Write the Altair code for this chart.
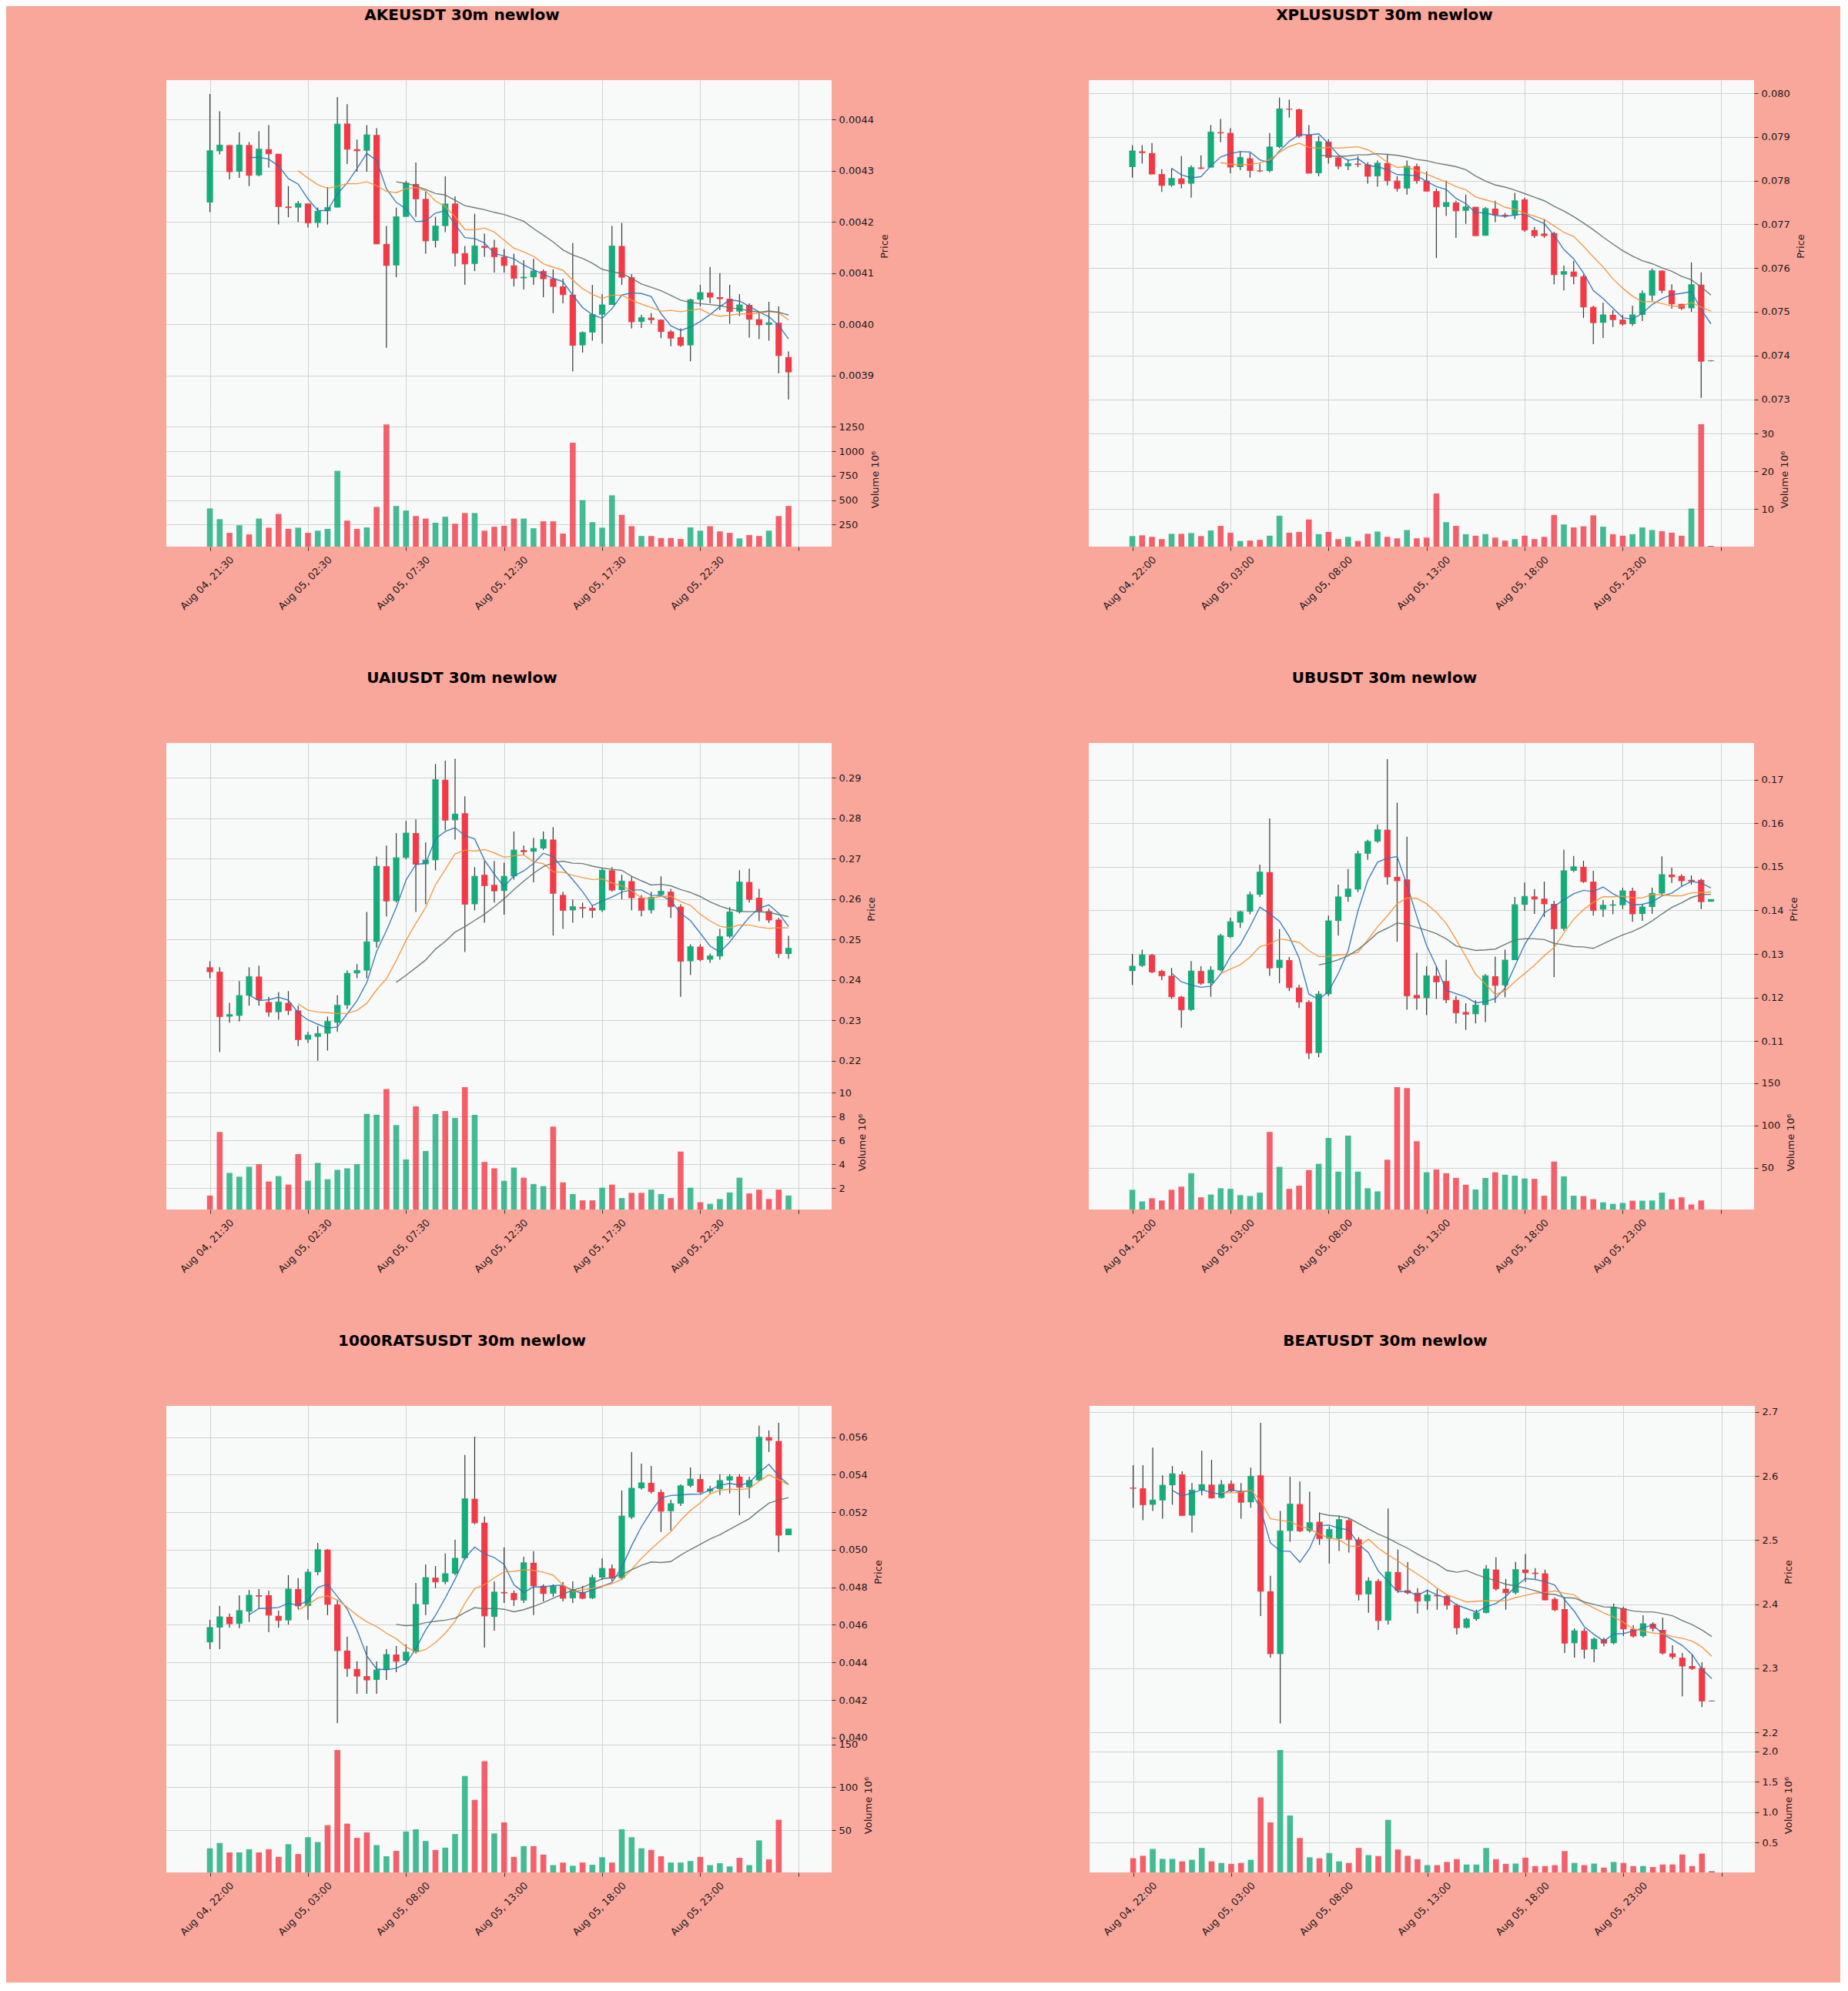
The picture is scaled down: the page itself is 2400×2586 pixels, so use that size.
import json
import altair as alt
import pandas as pd

N = 60
IDX = list(range(N))

LABELS_2130 = ["Aug 04, 21:30", "Aug 05, 02:30", "Aug 05, 07:30",
               "Aug 05, 12:30", "Aug 05, 17:30", "Aug 05, 22:30"]
LABELS_2200 = ["Aug 04, 22:00", "Aug 05, 03:00", "Aug 05, 08:00",
               "Aug 05, 13:00", "Aug 05, 18:00", "Aug 05, 23:00"]

# ---------------- AKEUSDT (price in units of 1e-5) ----------------
AKE_UNIT = 1e-5
AKE_OPEN = [423.8,433.8,435.0,429.8,435.0,429.1,434.2,433.3,423.0,422.8,423.6,419.8,422.1,422.8,439.2,434.2,433.9,437.0,415.7,411.5,421.0,427.4,424.5,416.3,419.2,423.6,413.9,411.8,415.3,415.0,413.2,411.5,409.0,409.2,410.4,408.9,407.4,405.8,395.9,398.4,401.9,403.8,415.3,409.2,400.5,401.3,400.9,398.6,397.5,395.9,404.8,406.2,405.3,405.0,402.5,403.8,401.0,399.9,400.3,393.6]
AKE_HIGH = [445.0,441.6,435.0,437.5,435.6,437.7,438.9,433.3,427.0,424.1,423.6,422.8,426.8,444.4,443.0,436.1,438.9,438.3,419.2,422.8,428.0,431.6,425.9,421.0,428.9,425.0,415.3,421.6,417.7,416.5,414.7,413.8,412.5,412.8,410.7,410.7,408.9,415.9,398.6,407.7,405.9,419.2,419.8,409.8,401.9,402.2,401.0,398.9,399.2,405.0,407.7,411.2,410.0,407.7,405.9,404.1,402.2,404.4,403.5,394.7]
AKE_LOW = [421.9,433.2,428.3,428.6,427.0,428.9,430.6,419.5,420.9,420.0,418.9,418.9,419.5,422.8,431.3,429.8,429.8,415.7,395.4,409.2,421.0,421.0,413.8,415.0,418.0,411.3,407.7,410.4,413.2,410.1,410.1,407.4,406.8,407.7,405.3,402.2,404.1,390.8,394.5,396.8,396.2,403.8,407.7,399.2,399.3,400.1,397.3,395.7,395.6,392.8,403.5,404.1,402.8,400.1,401.6,397.4,397.1,396.8,390.4,385.3]
AKE_CLOSE = [433.9,435.0,429.8,435.0,429.1,434.2,433.3,423.0,422.8,423.6,419.8,422.1,422.8,439.1,434.2,433.9,437.0,415.7,411.5,421.0,427.6,424.5,416.3,419.2,423.5,413.9,411.8,415.3,415.0,413.2,411.5,409.0,409.2,410.4,408.9,407.4,405.8,395.9,398.4,401.9,403.8,415.3,409.2,400.5,401.3,400.9,398.6,397.3,395.9,404.8,406.2,405.3,405.0,402.5,403.8,401.0,399.9,400.3,393.9,390.7]
AKE_VOL = [416,306,166,244,150,312,219,359,206,219,166,188,206,800,291,206,222,431,1275,441,394,338,312,269,331,259,369,369,188,228,238,312,312,213,284,284,159,1088,500,275,219,550,350,234,134,134,113,113,103,222,188,234,181,166,109,144,134,188,338,441]
AKE_PRICE_TICKS = [0.0039, 0.0040, 0.0041, 0.0042, 0.0043, 0.0044]
AKE_VOL_TICKS = [250, 500, 750, 1000, 1250]

# ---------------- XPLUSUSDT (price in units of 1e-4) ----------------
XPL_UNIT = 1e-4
XPL_OPEN = [783.1,786.7,786.3,781.5,778.9,780.5,779.3,783.0,783.0,791.1,790.9,783.1,785.1,782.3,782.2,787.7,796.4,796.3,790.5,781.7,788.9,785.3,783.3,783.9,783.7,781.0,784.0,780.0,778.2,783.3,780.0,777.6,774.0,775.0,773.1,774.0,767.4,773.6,772.2,772.0,775.7,768.7,767.9,768.0,758.5,759.2,758.1,751.1,747.5,749.3,748.2,747.2,749.3,753.7,759.4,754.9,751.8,750.8,756.2,738.8]
XPL_HIGH = [788.1,788.1,788.6,782.6,782.8,785.6,783.5,785.8,792.7,794.1,792.0,786.7,786.3,783.9,790.9,799.0,798.5,796.5,792.7,790.2,789.5,785.6,784.9,785.6,784.2,784.6,786.0,781.0,784.6,783.9,782.1,778.2,780.0,775.4,776.8,774.0,774.0,775.4,772.6,777.2,776.1,769.4,771.2,768.3,760.6,761.6,758.5,751.4,752.1,750.4,749.3,751.4,754.9,759.9,759.5,756.3,751.8,761.3,759.0,738.9]
XPL_LOW = [780.7,783.9,781.5,777.4,778.6,778.2,776.1,782.6,783.0,788.8,781.7,782.4,780.7,781.9,781.9,787.4,794.4,789.8,781.7,781.0,783.9,782.6,782.4,783.1,779.3,778.6,778.9,777.5,776.8,779.3,777.5,762.3,771.9,766.9,770.1,767.4,767.4,770.5,771.5,771.2,768.3,766.9,766.9,756.3,754.9,756.3,748.6,742.6,744.0,746.5,746.8,746.8,747.9,752.5,754.2,750.7,750.4,750.0,730.3,738.7]
XPL_CLOSE = [786.8,786.4,781.5,778.9,780.5,779.3,783.0,782.8,791.1,790.9,783.1,785.3,782.3,782.2,787.7,796.4,796.3,790.2,781.7,788.9,785.3,783.3,783.9,783.7,781.0,784.0,780.0,778.2,783.3,780.0,777.6,774.0,775.0,773.1,774.0,767.4,773.6,772.2,772.0,775.4,768.7,767.4,767.4,758.5,759.2,758.1,751.1,747.5,749.3,748.2,747.2,749.3,754.2,759.4,754.9,751.8,750.8,756.2,738.7,738.8]
XPL_VOL = [2.8,3.0,2.6,2.0,3.4,3.4,3.6,2.8,4.3,5.5,3.7,1.5,1.6,1.8,2.9,8.2,3.7,3.9,7.2,3.3,3.9,2.0,2.6,1.5,3.4,4.0,2.6,2.2,4.4,2.2,2.4,14.1,6.5,5.5,3.3,2.9,3.3,2.4,1.6,2.0,2.9,2.0,2.6,8.4,5.9,5.1,5.4,8.3,5.3,3.3,2.9,3.3,5.1,4.4,4.1,3.7,2.9,10.1,32.5,0.2]
XPL_PRICE_TICKS = [0.073, 0.074, 0.075, 0.076, 0.077, 0.078, 0.079, 0.080]
XPL_VOL_TICKS = [10, 20, 30]

# ---------------- UAIUSDT (price in units of 1e-3) ----------------
UAI_UNIT = 1e-3
UAI_OPEN = [243.1,242.0,230.9,231.1,236.1,240.8,234.5,232.0,234.3,232.4,225.2,225.9,226.7,229.4,233.7,241.6,242.3,249.4,268.1,259.5,270.2,276.3,268.6,269.6,289.5,279.5,281.2,258.7,266.0,263.5,262.0,265.6,272.1,271.7,272.5,274.7,261.0,257.2,258.0,257.8,257.2,267.1,262.2,264.4,260.3,257.2,261.0,261.8,258.1,244.6,248.2,245.0,245.8,250.7,256.8,264.2,260.3,257.0,254.9,246.4]
UAI_HIGH = [244.6,243.1,234.3,239.7,243.1,243.5,235.8,237.0,237.2,233.6,227.1,228.6,230.9,236.2,242.3,243.9,256.8,270.5,273.2,276.3,279.3,279.7,274.0,293.4,294.2,294.7,285.4,267.9,269.4,269.4,269.0,276.7,273.2,275.1,276.7,277.8,261.8,259.9,259.1,258.3,267.5,267.9,266.0,265.6,261.0,261.8,265.6,262.5,258.7,248.8,248.8,246.5,252.6,258.0,267.1,267.5,262.5,257.6,255.3,250.9]
UAI_LOW = [240.4,222.1,229.4,229.7,233.6,233.6,230.9,230.1,231.3,223.6,224.4,220.0,222.5,227.1,232.8,240.4,240.4,248.0,255.7,259.1,269.8,256.8,258.7,267.1,277.0,274.7,246.9,257.2,254.1,259.1,256.1,264.8,270.9,264.1,272.1,251.0,252.6,254.1,255.3,255.3,256.8,261.8,259.9,257.2,255.7,256.4,260.6,255.3,235.8,241.2,244.6,244.2,245.0,250.3,256.4,259.1,254.5,254.1,245.4,245.2]
UAI_CLOSE = [242.0,230.9,231.4,236.1,240.8,235.1,232.0,234.5,232.4,225.2,226.3,226.7,229.7,233.7,241.6,242.3,249.4,268.1,259.5,270.2,276.3,268.6,269.6,289.5,279.5,281.0,258.7,265.6,263.3,262.0,265.6,272.1,271.7,272.5,274.7,261.4,257.2,258.1,257.7,257.2,267.1,262.2,264.4,260.3,257.2,260.4,261.9,258.1,244.6,248.2,245.0,245.9,250.7,256.8,264.2,259.9,257.0,254.8,246.5,247.8]
UAI_VOL = [1.37,6.7,3.27,2.95,3.79,4.0,2.55,3.0,2.29,4.85,2.61,4.11,2.74,3.53,3.66,4.0,8.23,8.15,10.3,7.28,4.4,8.86,5.11,8.2,8.46,7.88,10.47,8.15,4.19,3.66,2.61,3.72,2.87,2.34,2.16,7.15,2.47,1.5,0.97,0.97,2.03,2.29,1.16,1.6,1.6,1.87,1.5,1.16,5.06,2.03,0.81,0.68,1.08,1.63,2.87,1.55,1.87,1.08,1.87,1.37]
UAI_PRICE_TICKS = [0.22, 0.23, 0.24, 0.25, 0.26, 0.27, 0.28, 0.29]
UAI_VOL_TICKS = [2, 4, 6, 8, 10]

# ---------------- UBUSDT (price in units of 1e-3) ----------------
UB_UNIT = 1e-3
UB_OPEN = [126.1,127.3,129.8,126.1,125.0,120.2,117.2,126.1,123.3,126.3,133.9,137.2,139.7,143.6,148.8,126.8,128.6,122.3,119.0,107.3,120.8,137.6,143.1,144.8,153.0,155.8,158.5,147.7,147.1,120.6,119.9,125.0,123.8,119.5,116.7,116.2,118.3,124.9,122.8,128.6,141.3,143.2,142.7,141.5,135.8,149.1,150.0,146.6,140.2,141.1,141.2,144.5,139.2,140.8,143.9,148.2,147.9,147.0,147.0,142.0]
UB_HIGH = [130.0,131.0,130.0,126.4,126.8,120.4,128.4,127.2,127.2,134.6,138.3,139.9,144.3,150.5,161.1,135.7,129.3,122.9,119.4,121.5,138.8,145.9,149.5,153.7,156.2,159.7,174.7,164.7,156.9,130.3,127.2,127.2,128.7,120.4,118.7,119.4,125.4,129.4,131.0,143.1,146.4,144.9,146.6,142.2,153.9,152.5,151.4,149.1,142.4,142.4,145.2,145.2,141.3,145.2,152.4,149.8,148.3,148.0,147.3,142.5]
UB_LOW = [122.9,127.0,125.6,124.0,119.7,113.1,116.9,122.9,120.2,126.1,133.7,136.0,139.1,143.1,125.0,123.3,121.5,117.6,105.9,106.3,120.4,134.2,142.0,144.2,151.6,155.5,145.9,132.8,117.2,117.2,116.0,119.7,118.7,114.1,112.6,114.1,114.4,118.8,120.1,128.6,139.9,139.2,138.5,124.7,135.3,148.8,146.3,138.8,138.5,139.1,140.3,137.4,137.6,139.2,143.6,146.3,145.6,145.9,140.3,142.0]
UB_CLOSE = [127.2,129.8,125.9,125.0,120.2,117.2,126.1,123.3,126.3,134.2,137.4,139.7,143.6,148.8,126.8,128.6,122.3,119.0,107.3,120.8,137.6,143.1,144.9,153.0,155.8,158.5,147.7,146.8,120.4,119.9,125.0,123.6,119.5,116.5,116.2,118.3,125.0,122.8,128.6,141.3,143.2,142.6,141.5,135.8,149.1,150.0,146.6,140.0,141.2,141.3,144.5,139.2,140.8,143.9,148.2,147.7,146.8,146.7,142.0,142.5]
UB_VOL = [24.2,10.5,14.2,11.6,24.2,27.9,43.7,15.3,18.6,26.0,25.3,17.9,16.8,20.8,92.4,51.1,25.3,29.0,47.4,54.8,85.4,45.6,88.0,45.6,26.0,22.3,59.6,145.2,144.1,81.4,44.8,48.2,43.7,38.2,30.1,24.5,38.2,44.8,41.9,40.8,37.5,37.1,17.2,57.4,40.0,17.2,16.8,13.1,9.4,7.6,8.7,11.3,11.3,11.6,20.8,13.1,15.3,6.8,11.6,1.0]
UB_PRICE_TICKS = [0.11, 0.12, 0.13, 0.14, 0.15, 0.16, 0.17]
UB_VOL_TICKS = [50, 100, 150]

# ---------------- 1000RATSUSDT (price in units of 1e-4) ----------------
RATS_UNIT = 1e-4
RATS_OPEN = [450.7,458.6,464.3,460.6,467.1,475.8,475.8,464.8,462.4,479.1,470.1,488.1,500.1,470.9,446.3,436.5,432.7,430.7,436.0,444.2,440.9,445.5,470.9,485.2,482.9,487.3,495.5,527.2,514.4,464.3,477.5,477.0,473.0,493.1,480.8,476.7,480.8,474.2,477.5,474.2,485.2,490.1,484.9,517.3,532.8,535.7,530.8,520.6,524.6,534.1,537.7,531.1,532.4,536.9,539.0,533.3,537.0,560.0,557.9,507.8]
RATS_HIGH = [462.7,470.1,466.0,475.8,478.6,479.1,478.3,467.6,486.5,484.9,489.8,503.7,500.4,473.4,453.7,440.6,448.8,440.6,447.1,448.8,449.6,482.4,492.2,491.4,498.0,505.4,550.5,560.3,517.7,483.2,501.3,478.3,496.3,499.3,481.6,481.6,482.9,483.2,480.8,486.8,495.5,492.2,531.6,552.1,545.9,544.7,532.1,526.7,534.9,543.9,540.3,534.1,540.3,540.3,540.3,539.0,566.1,563.6,567.7,511.1]
RATS_LOW = [447.1,447.1,458.6,458.3,461.6,468.4,456.1,458.6,460.2,468.4,462.7,486.5,465.2,407.7,432.4,423.3,423.3,423.3,430.7,434.8,438.9,444.7,465.2,479.6,481.6,486.5,494.7,513.6,447.9,456.9,471.7,470.1,471.7,465.2,472.5,475.0,472.5,471.7,473.7,473.7,484.0,483.2,484.0,516.4,532.1,530.0,509.5,510.3,523.4,533.3,530.0,530.0,529.2,530.0,518.5,527.5,536.5,552.1,498.8,507.8]
RATS_CLOSE = [458.6,464.3,460.6,467.6,475.8,475.3,465.2,462.4,479.1,470.1,488.1,500.1,470.9,446.3,436.8,432.7,430.7,436.0,444.2,440.6,445.5,470.9,485.2,482.9,487.3,495.5,527.2,514.4,464.8,477.5,477.0,473.4,493.1,480.8,476.7,480.8,474.2,478.8,474.2,485.2,490.1,484.9,518.0,532.8,535.7,531.1,520.6,524.6,534.1,537.7,530.8,532.4,536.9,539.0,533.3,537.0,560.0,558.4,507.8,511.1]
RATS_VOL = [29.0,35.2,24.2,24.2,27.9,24.2,27.9,19.0,33.8,22.3,41.9,36.3,55.9,143.4,57.7,41.1,47.4,32.7,19.7,26.0,48.5,51.1,37.5,27.1,29.7,45.6,113.1,85.4,130.4,46.3,59.2,19.0,31.5,31.5,21.6,9.4,12.4,8.7,12.4,9.8,18.6,12.4,51.1,41.9,29.0,27.1,19.7,12.4,12.4,14.2,19.0,9.4,11.6,7.9,17.9,9.4,38.2,16.1,62.2,1.0]
RATS_PRICE_TICKS = [0.040, 0.042, 0.044, 0.046, 0.048, 0.050, 0.052, 0.054, 0.056]
RATS_VOL_TICKS = [50, 100, 150]

# ---------------- BEATUSDT (price in units of 1e-3) ----------------
BEAT_UNIT = 1e-3
BEAT_OPEN = [2581.9,2580.9,2555.3,2562.1,2585.7,2602.6,2538.5,2578.0,2586.7,2565.9,2588.1,2577.0,2559.2,2601.1,2420.3,2322.4,2514.4,2556.3,2514.4,2528.8,2502.3,2502.3,2531.2,2501.3,2415.5,2436.2,2374.5,2450.2,2421.8,2417.9,2404.9,2414.5,2413.1,2398.6,2363.4,2376.9,2386.6,2454.1,2424.2,2417.9,2454.1,2449.3,2448.3,2408.3,2392.4,2339.3,2358.6,2329.7,2345.6,2339.3,2393.8,2361.5,2350.4,2369.7,2360.0,2323.4,2316.7,2303.6,2300.7,2249.1]
BEAT_HIGH = [2617.1,2617.1,2644.5,2601.1,2615.6,2607.4,2589.1,2639.7,2625.3,2593.9,2593.0,2589.1,2613.2,2683.1,2444.4,2545.7,2598.7,2591.5,2575.6,2543.3,2521.6,2538.5,2533.6,2504.7,2442.0,2439.6,2549.6,2485.4,2466.1,2425.1,2422.7,2424.2,2415.5,2401.0,2379.3,2391.4,2461.3,2473.4,2439.6,2466.1,2478.2,2456.5,2454.1,2410.7,2410.7,2362.5,2362.5,2348.0,2348.0,2401.0,2396.2,2367.3,2382.7,2372.1,2379.3,2335.9,2323.9,2321.5,2309.4,2249.5]
BEAT_LOW = [2550.5,2531.2,2545.7,2533.6,2555.3,2538.5,2511.9,2569.8,2565.0,2565.0,2574.6,2533.6,2550.5,2381.7,2316.7,2213.9,2497.5,2512.9,2511.9,2492.7,2463.7,2483.0,2480.6,2405.9,2386.6,2360.0,2368.3,2417.9,2415.5,2385.6,2391.4,2391.4,2391.4,2352.8,2362.5,2374.5,2385.6,2421.3,2391.4,2415.5,2434.8,2439.6,2405.9,2389.0,2323.9,2316.7,2315.2,2309.4,2334.5,2337.4,2350.4,2348.0,2348.0,2357.6,2321.5,2314.2,2256.4,2297.4,2239.5,2248.7]
BEAT_CLOSE = [2580.9,2555.3,2562.6,2585.7,2603.6,2538.5,2578.0,2586.7,2565.9,2586.7,2577.0,2559.2,2599.7,2420.3,2322.9,2514.4,2556.3,2514.4,2527.4,2502.3,2516.8,2532.2,2501.3,2415.5,2436.2,2374.5,2450.2,2421.8,2417.9,2404.9,2414.5,2413.1,2398.6,2363.4,2376.9,2386.6,2455.0,2424.2,2417.9,2454.1,2449.3,2447.8,2406.8,2391.4,2339.3,2358.6,2329.7,2345.6,2339.3,2395.2,2361.5,2350.4,2369.7,2362.5,2323.9,2318.1,2303.6,2299.8,2249.1,2249.1]
BEAT_VOL = [0.243,0.284,0.397,0.233,0.233,0.192,0.218,0.413,0.192,0.166,0.151,0.166,0.218,1.245,0.834,2.025,0.947,0.577,0.259,0.243,0.330,0.192,0.166,0.413,0.295,0.279,0.875,0.387,0.284,0.228,0.130,0.130,0.182,0.228,0.140,0.140,0.413,0.228,0.151,0.156,0.253,0.115,0.115,0.130,0.361,0.166,0.130,0.156,0.089,0.182,0.166,0.115,0.115,0.099,0.140,0.140,0.305,0.115,0.320,0.03]
BEAT_PRICE_TICKS = [2.2, 2.3, 2.4, 2.5, 2.6, 2.7]
BEAT_VOL_TICKS = [0.5, 1.0, 1.5, 2.0]

# ---------------- style ----------------
FIG_BG = "#F9A69B"
PLOT_BG = "#F8F9F9"
GREEN = "#16ab7b"
RED = "#f23a46"
FLAT = "#5a5a5a"
WICK = "#363636"
MA_COLORS = {5: "#2f72b3", 10: "#f39435", 20: "#5c7268"}
FONT = "DejaVu Sans"
PLOT_W = 864
PRICE_H = 431
VOL_H = 175
X_DOMAIN = [-4.05, 63.0]
X_TICKS = [0, 10, 20, 30, 40, 50, 60]


def frame(unit, o, h, l, c, v):
    df = pd.DataFrame({"i": IDX, "o": o, "h": h, "l": l, "c": c, "v": v})
    dirs = []
    for oo, cc in zip(o, c):
        dirs.append("flat" if cc == oo else ("up" if cc > oo else "down"))
    for k in ("o", "h", "l", "c"):
        df[k] = df[k] * unit
    df["dir"] = dirs
    return df


def make_panel(p):
    df = frame(p["unit"], p["o"], p["h"], p["l"], p["c"], p["v"])
    base = alt.Chart(df)
    xs = alt.Scale(domain=X_DOMAIN, nice=False, zero=False)
    x_price = alt.X("i:Q", scale=xs,
                    axis=alt.Axis(values=X_TICKS, labels=False, ticks=False,
                                  domain=False, grid=True, title=None,
                                  minExtent=0, maxExtent=0))
    ys = alt.Scale(domain=p["pdom"], nice=False, zero=False)

    def y_axis():
        return alt.Axis(orient="right", values=p["pticks"], format=p["pfmt"],
                        title="Price", titleAngle=270, titleBaseline="top",
                        titlePadding=8, grid=True)

    color = alt.Color("dir:N", legend=None,
                      scale=alt.Scale(domain=["up", "down", "flat"],
                                      range=[GREEN, RED, FLAT]))

    wicks = base.mark_rule(color=WICK, strokeWidth=1.2).encode(
        x=x_price, y=alt.Y("l:Q", scale=ys, axis=y_axis(), title="Price"), y2="h:Q")
    bodies = base.mark_bar(size=8.2).encode(
        x=x_price, y=alt.Y("o:Q", scale=ys, axis=y_axis(), title="Price"),
        y2="c:Q", color=color)
    flats = base.mark_tick(orient="horizontal", size=8.2, thickness=1.3).encode(
        x=x_price, y=alt.Y("c:Q", scale=ys, axis=y_axis(), title="Price"), color=color)
    layers = [wicks, bodies, flats]
    for n in (5, 10, 20):
        ma = base.transform_window(
            ma="mean(c)", cnt="count()", frame=[-(n - 1), 0],
            sort=[alt.SortField("i")]
        ).transform_filter(f"datum.cnt >= {n}").mark_line(
            color=MA_COLORS[n], strokeWidth=1.4, opacity=0.9
        ).encode(x=x_price, y=alt.Y("ma:Q", scale=ys, axis=y_axis(), title="Price"))
        layers.append(ma)
    price = alt.layer(*layers).properties(width=PLOT_W, height=PRICE_H)

    label_expr = ("datum.value >= 60 ? '' : " + json.dumps(p["labels"]) +
                  "[round(datum.value / 10)]")
    x_vol = alt.X("i:Q", scale=xs,
                  axis=alt.Axis(values=X_TICKS, labelExpr=label_expr,
                                labelAngle=315, labelAlign="center",
                                labelBaseline="middle", labelPadding=42,
                                labelOffset=-4,
                                labelOverlap=False, labelBound=False,
                                labelFlush=False, grid=True, title=None,
                                ticks=True, domain=False))
    vol = base.mark_bar(size=7.6, clip=True, opacity=0.8).encode(
        x=x_vol,
        y=alt.Y("v:Q", scale=alt.Scale(domain=p["vdom"], nice=False, zero=False),
                axis=alt.Axis(orient="right", values=p["vticks"], format=p["vfmt"],
                              title="Volume  10\u2076", titleAngle=270,
                              titleBaseline="top", titlePadding=8, grid=True)),
        color=color,
    ).properties(width=PLOT_W, height=VOL_H)

    return alt.vconcat(
        price, vol, spacing=0, bounds="flush",
        title=alt.TitleParams(text=p["title"], anchor="middle", frame="group",
                              offset=74, dx=384, fontSize=20, fontWeight="bold",
                              font=FONT, color="#000000"),
    )


PANELS = [
    dict(title="AKEUSDT 30m newlow", unit=AKE_UNIT, o=AKE_OPEN, h=AKE_HIGH, l=AKE_LOW,
         c=AKE_CLOSE, v=AKE_VOL, pticks=AKE_PRICE_TICKS, pfmt=".4f",
         pdom=[0.003829, 0.004477], vticks=AKE_VOL_TICKS, vfmt="d", vdom=[25, 1403],
         labels=LABELS_2130),
    dict(title="XPLUSUSDT 30m newlow", unit=XPL_UNIT, o=XPL_OPEN, h=XPL_HIGH, l=XPL_LOW,
         c=XPL_CLOSE, v=XPL_VOL, pticks=XPL_PRICE_TICKS, pfmt=".3f",
         pdom=[0.07271, 0.08030], vticks=XPL_VOL_TICKS, vfmt="d", vdom=[0, 35.75],
         labels=LABELS_2200),
    dict(title="UAIUSDT 30m newlow", unit=UAI_UNIT, o=UAI_OPEN, h=UAI_HIGH, l=UAI_LOW,
         c=UAI_CLOSE, v=UAI_VOL, pticks=UAI_PRICE_TICKS, pfmt=".2f",
         pdom=[0.2165, 0.2986], vticks=UAI_VOL_TICKS, vfmt="d", vdom=[0.2, 11.5],
         labels=LABELS_2130),
    dict(title="UBUSDT 30m newlow", unit=UB_UNIT, o=UB_OPEN, h=UB_HIGH, l=UB_LOW,
         c=UB_CLOSE, v=UB_VOL, pticks=UB_PRICE_TICKS, pfmt=".2f",
         pdom=[0.1023, 0.1784], vticks=UB_VOL_TICKS, vfmt="d", vdom=[0.9, 159.7],
         labels=LABELS_2200),
    dict(title="1000RATSUSDT 30m newlow", unit=RATS_UNIT, o=RATS_OPEN, h=RATS_HIGH,
         l=RATS_LOW, c=RATS_CLOSE, v=RATS_VOL, pticks=RATS_PRICE_TICKS, pfmt=".3f",
         pdom=[0.03999, 0.05767], vticks=RATS_VOL_TICKS, vfmt="d", vdom=[0.9, 157.7],
         labels=LABELS_2200),
    dict(title="BEATUSDT 30m newlow", unit=BEAT_UNIT, o=BEAT_OPEN, h=BEAT_HIGH,
         l=BEAT_LOW, c=BEAT_CLOSE, v=BEAT_VOL, pticks=BEAT_PRICE_TICKS, pfmt=".1f",
         pdom=[2.1918, 2.7096], vticks=BEAT_VOL_TICKS, vfmt=".1f", vdom=[0.01, 2.2275],
         labels=LABELS_2200),
]

COL_SPACING = [258, 275, 267]
rows = []
for r in range(3):
    rows.append(alt.hconcat(make_panel(PANELS[2 * r]), make_panel(PANELS[2 * r + 1]),
                            spacing=COL_SPACING[r]))

chart = alt.vconcat(*rows, spacing=76).properties(
    padding={"left": 208, "top": 2, "right": 44, "bottom": 58}
).configure(
    background=FIG_BG, font=FONT
).configure_view(
    fill=PLOT_BG, stroke=None
).configure_axis(
    labelFont=FONT, labelFontSize=13, labelColor="#1a1a1a",
    titleFont=FONT, titleFontSize=13, titleFontWeight="normal", titleColor="#1a1a1a",
    tickColor="#333333", tickSize=5, tickWidth=1, labelPadding=4,
    gridColor="#d2d2d2", gridWidth=1, domain=False,
)

chart.save("out.html", embed_options={"renderer": "svg", "actions": False})
